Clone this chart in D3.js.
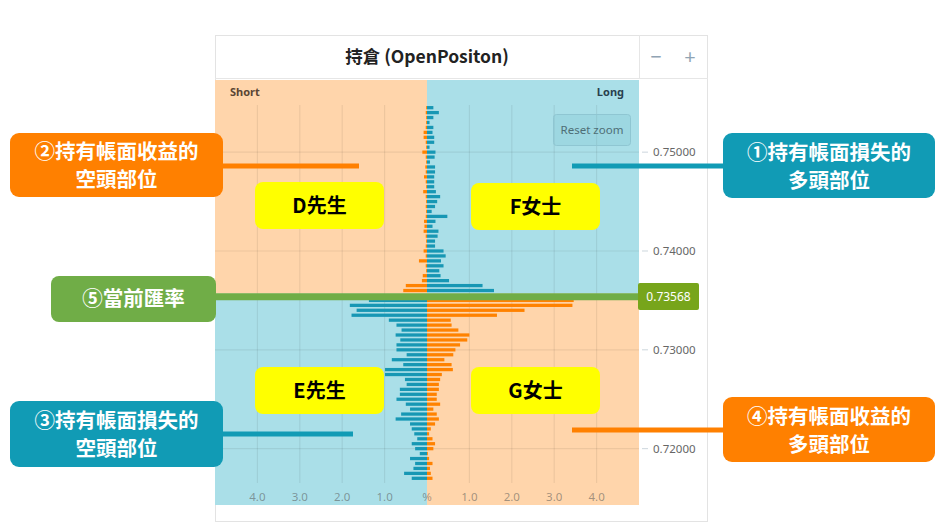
<!DOCTYPE html>
<html><head><meta charset="utf-8">
<script src="https://cdn.jsdelivr.net/npm/d3@7"></script>
<style>
html,body{margin:0;padding:0;background:#fff;}
svg{display:block;}
</style></head>
<body>
<svg id="c" width="940" height="531"></svg>
<script>
// ---- data ----
const title = "持倉 (OpenPositon)";
const currentRate = 0.73568;
const priceTicks = [0.72, 0.73, 0.74, 0.75];
const pctTicks = [-4, -3, -2, -1, 0, 1, 2, 3, 4];
const pctTickLabels = ["4.0", "3.0", "2.0", "1.0", "%", "1.0", "2.0", "3.0", "4.0"];
const prices = [
  0.7545, 0.7540, 0.7535, 0.7530, 0.7525, 0.7520, 0.7515, 0.7510, 0.7505, 0.7500,
  0.7495, 0.7490, 0.7485, 0.7480, 0.7475, 0.7470, 0.7465, 0.7460, 0.7455, 0.7450,
  0.7445, 0.7440, 0.7435, 0.7430, 0.7425, 0.7420, 0.7415, 0.7410, 0.7405, 0.7400,
  0.7395, 0.7390, 0.7385, 0.7380, 0.7375, 0.7370, 0.7365, 0.7360,
  0.7350, 0.7345, 0.7340, 0.7335, 0.7330, 0.7325, 0.7320, 0.7315, 0.7310, 0.7305,
  0.7300, 0.7295, 0.7290, 0.7285, 0.7280, 0.7275, 0.7270, 0.7265, 0.7260, 0.7255,
  0.7250, 0.7245, 0.7240, 0.7235, 0.7230, 0.7225, 0.7220, 0.7215, 0.7210, 0.7205,
  0.7200, 0.7195, 0.7190, 0.7185, 0.7180, 0.7175, 0.7170
];
const longPct = [
  0.15, 0.28, 0.15, 0.06, 0.15, 0.13, 0.17, 0.17, 0.06, 0.20,
  0.18, 0.07, 0.19, 0.19, 0.17, 0.17, 0.17, 0.21, 0.31, 0.24,
  0.19, 0.11, 0.48, 0.20, 0.13, 0.27, 0.25, 0.19, 0.19, 0.39,
  0.44, 0.33, 0.39, 0.29, 0.32, 0.52, 1.31, 1.58,
  3.46, 3.43, 2.30, 1.65, 0.56, 0.58, 0.74, 1.00, 0.95, 0.78,
  0.67, 0.62, 0.41, 0.58, 0.61, 0.35, 0.31, 0.28, 0.28, 0.23,
  0.23, 0.31, 0.15, 0.23, 0.28, 0.19, 0.09, 0.05, 0.13, 0.19,
  0.15, 0.02, 0.05, 0.13, 0.07, 0.09, 0.13
];
const shortPct = [
  0.02, 0.03, 0.02, 0.02, 0.03, 0.08, 0.08, 0.03, 0.02, 0.11,
  0.03, 0.02, 0.04, 0.03, 0.07, 0.03, 0.02, 0.09, 0.03, 0.02,
  0.03, 0.02, 0.03, 0.07, 0.06, 0.08, 0.03, 0.02, 0.03, 0.08,
  0.03, 0.19, 0.03, 0.02, 0.10, 0.12, 0.50, 0.56,
  1.37, 1.82, 1.66, 1.78, 0.90, 0.72, 0.60, 0.74, 0.63, 0.72,
  0.72, 0.48, 0.83, 0.56, 0.99, 0.99, 0.52, 0.48, 0.64, 0.64,
  0.72, 0.50, 0.40, 0.61, 0.74, 0.40, 0.36, 0.30, 0.23, 0.36,
  0.28, 0.17, 0.40, 0.28, 0.32, 0.54, 0.36
];
const callouts = [
  {lines:["②持有帳面收益的","空頭部位"], color:"#FF8000", box:[10,133,213,64], line:[[222,166],[359,166]], lw:5},
  {lines:["①持有帳面損失的","多頭部位"], color:"#119BB5", box:[723,133,212,65], line:[[572,166],[723,166]], lw:5},
  {lines:["③持有帳面損失的","空頭部位"], color:"#119BB5", box:[10,401,213,66], line:[[222,434],[353,434]], lw:5},
  {lines:["④持有帳面收益的","多頭部位"], color:"#FF8000", box:[723,397,212,65], line:[[572,430],[723,430]], lw:5}
];
const people = [
  {name:"D先生", box:[255,182,129,47]},
  {name:"F女士", box:[471,183,129,47]},
  {name:"E先生", box:[255,367,129,47]},
  {name:"G女士", box:[471,367,129,47]}
];

// ---- styling constants ----
const C = {
  orangeBg:"#FFD5AB", blueBg:"#AADFE8",
  orangeBar:"#FF8200", tealBar:"#1797B4",
  green:"#70AD47", rateBox:"#77A51B"
};
const CJK = "'Noto Sans CJK TC','Noto Sans CJK SC',sans-serif";
const SANS = "'Noto Sans','Open Sans',sans-serif";

const svg = d3.select("#c");
const plot = {left:215, right:639, top:80, bottom:505};

const x = d3.scaleLinear().domain([-5, 5]).range([plot.left, plot.right]);
const y = d3.scaleLinear().domain([0.7143, 0.7573]).range([plot.bottom, plot.top]);
const step = y(0) - y(0.0005);
const barH = step * 0.66;
const yc = y(currentRate);
const x0 = x(0);

// chart frame
svg.append("rect").attr("x",215.5).attr("y",35.5).attr("width",492).attr("height",486)
  .attr("fill","#fff").attr("stroke","#e3e3e3");
svg.append("line").attr("x1",215).attr("x2",708).attr("y1",78.5).attr("y2",78.5).attr("stroke","#e6e6e6");
svg.append("line").attr("x1",639.5).attr("x2",639.5).attr("y1",35).attr("y2",78).attr("stroke","#e6e6e6");

svg.append("text").attr("x",427).attr("y",63).attr("text-anchor","middle")
  .attr("font-family",CJK).attr("font-weight","bold").attr("font-size",17.5).attr("fill","#222").text(title);
svg.append("text").attr("x",656).attr("y",64).attr("text-anchor","middle")
  .attr("font-family",SANS).attr("font-size",20).attr("fill","#90a4b4").text("−");
svg.append("text").attr("x",690).attr("y",64).attr("text-anchor","middle")
  .attr("font-family",SANS).attr("font-size",20).attr("fill","#90a4b4").text("+");

// backgrounds
svg.append("rect").attr("x",plot.left).attr("y",plot.top).attr("width",x0-plot.left).attr("height",yc-plot.top).attr("fill",C.orangeBg);
svg.append("rect").attr("x",x0).attr("y",plot.top).attr("width",plot.right-x0).attr("height",yc-plot.top).attr("fill",C.blueBg);
svg.append("rect").attr("x",plot.left).attr("y",yc).attr("width",x0-plot.left).attr("height",plot.bottom-yc).attr("fill",C.blueBg);
svg.append("rect").attr("x",x0).attr("y",yc).attr("width",plot.right-x0).attr("height",plot.bottom-yc).attr("fill",C.orangeBg);

// grid
const grid = svg.append("g").attr("stroke","rgba(0,0,0,0.07)").attr("stroke-width",1.2);
pctTicks.filter(d=>d!==0).forEach(d=>{
  grid.append("line").attr("x1",x(d)).attr("x2",x(d)).attr("y1",105).attr("y2",483);
});
priceTicks.forEach(d=>{
  grid.append("line").attr("x1",plot.left).attr("x2",plot.right).attr("y1",y(d)).attr("y2",y(d));
});

// labels Short/Long
svg.append("text").attr("x",230).attr("y",96).attr("font-family",SANS).attr("font-weight","bold")
  .attr("font-size",11).attr("fill","#5a4534").text("Short");
svg.append("text").attr("x",624).attr("y",96).attr("text-anchor","end").attr("font-family",SANS).attr("font-weight","bold")
  .attr("font-size",11).attr("fill","#29404e").text("Long");

// bars
const rows = prices.map((p,i)=>({p, L:longPct[i], S:shortPct[i], above:p>currentRate}));
svg.append("g").selectAll("rect.l").data(rows).join("rect")
  .attr("x",x0).attr("y",d=>y(d.p)-barH/2).attr("width",d=>x(d.L)-x0).attr("height",barH)
  .attr("fill",d=>d.above?C.tealBar:C.orangeBar);
svg.append("g").selectAll("rect.s").data(rows).join("rect")
  .attr("x",d=>x(-d.S)).attr("y",d=>y(d.p)-barH/2).attr("width",d=>x0-x(-d.S)).attr("height",barH)
  .attr("fill",d=>d.above?C.orangeBar:C.tealBar);

// bottom axis labels
svg.append("g").selectAll("text").data(pctTicks).join("text")
  .attr("x",d=>x(d)).attr("y",501).attr("text-anchor","middle")
  .attr("font-family",SANS).attr("font-size",11.5).attr("fill","#555").attr("fill-opacity",0.55)
  .text((d,i)=>pctTickLabels[i]);

// right axis
const ra = svg.append("g");
priceTicks.forEach(d=>{
  ra.append("line").attr("x1",642).attr("x2",648).attr("y1",y(d)).attr("y2",y(d)).attr("stroke","#ccd6dd");
  ra.append("text").attr("x",653).attr("y",y(d)+4).attr("font-family",SANS).attr("font-size",11.5)
    .attr("fill","#666").text(d.toFixed(5));
});

// reset zoom button
svg.append("rect").attr("x",553.5).attr("y",114.5).attr("width",77).attr("height",31).attr("rx",3)
  .attr("fill","rgba(120,190,205,0.25)").attr("stroke","#8fc6d2");
svg.append("text").attr("x",592).attr("y",134).attr("text-anchor","middle").attr("font-family",SANS)
  .attr("font-size",11.5).attr("fill","#4e6e76").text("Reset zoom");

// yellow name boxes
people.forEach(p=>{
  const [bx,by,bw,bh] = p.box;
  svg.append("rect").attr("x",bx).attr("y",by).attr("width",bw).attr("height",bh).attr("rx",8).attr("fill","#FFFF00");
  svg.append("text").attr("x",bx+bw/2).attr("y",by+bh/2+7).attr("text-anchor","middle")
    .attr("font-family",CJK).attr("font-weight","bold").attr("font-size",20).attr("fill","#000").text(p.name);
});

// current rate line + callout
svg.append("line").attr("x1",214).attr("x2",640).attr("y1",yc+3).attr("y2",yc+3)
  .attr("stroke",C.green).attr("stroke-width",7);
svg.append("rect").attr("x",51).attr("y",276).attr("width",165).attr("height",46).attr("rx",8).attr("fill",C.green);
svg.append("text").attr("x",133.5).attr("y",306).attr("text-anchor","middle").attr("font-family",CJK)
  .attr("font-weight","bold").attr("font-size",20.5).attr("fill","#fff").text("⑤當前匯率");
svg.append("rect").attr("x",638).attr("y",283).attr("width",61).attr("height",27).attr("rx",2).attr("fill",C.rateBox);
svg.append("text").attr("x",668.5).attr("y",301).attr("text-anchor","middle").attr("font-family",SANS)
  .attr("font-size",12).attr("fill","#fff").text(currentRate.toFixed(5));

// callouts
callouts.forEach(c=>{
  svg.append("line").attr("x1",c.line[0][0]).attr("y1",c.line[0][1]).attr("x2",c.line[1][0]).attr("y2",c.line[1][1])
    .attr("stroke",c.color).attr("stroke-width",c.lw);
  const [bx,by,bw,bh] = c.box;
  svg.append("rect").attr("x",bx).attr("y",by).attr("width",bw).attr("height",bh).attr("rx",9).attr("fill",c.color);
  c.lines.forEach((t,i)=>{
    svg.append("text").attr("x",bx+bw/2).attr("y",by+bh/2-14+i*28+8).attr("text-anchor","middle")
      .attr("font-family",CJK).attr("font-weight","bold").attr("font-size",20.5).attr("fill","#fff").text(t);
  });
});
</script>
</body></html>
